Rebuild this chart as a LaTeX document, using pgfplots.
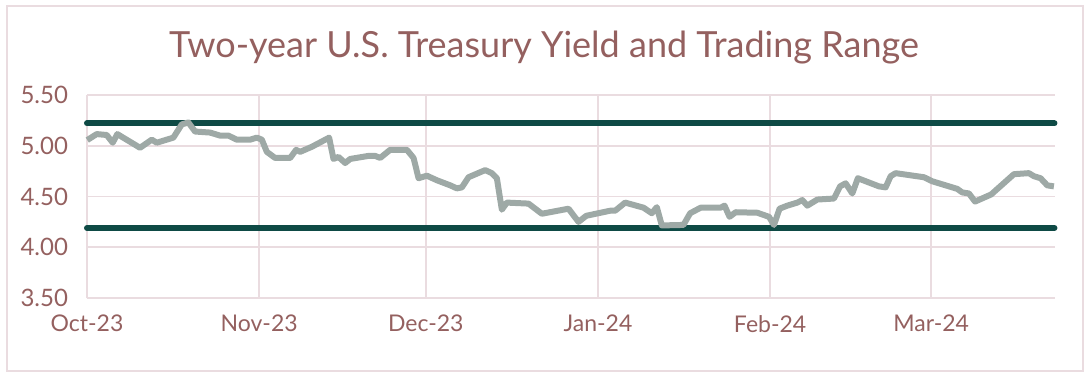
\documentclass[border=0pt]{standalone}
\usepackage{pgfplots}
\pgfplotsset{compat=1.18}
\usepackage{fontspec}
\setmainfont{Lato}
\definecolor{txt}{HTML}{94605F}
\definecolor{gridc}{HTML}{EADCE0}
\definecolor{yld}{HTML}{9EA9A6}
\definecolor{rng}{HTML}{0E4A45}
\begin{document}
\begin{tikzpicture}
\path[use as bounding box] (0,0) rectangle (545.5pt,188pt);
\draw[gridc, line width=0.8pt] (3.5pt,2.5pt) rectangle (541.5pt,185pt);
\node[text=txt, font=\fontsize{18pt}{21pt}\selectfont] at (272pt,164pt) {Two-year U.S. Treasury Yield and Trading Range};
\begin{axis}[
  at={(43.5pt,39pt)}, anchor=south west,
  scale only axis, width=484pt, height=101.5pt,
  xmin=0, xmax=174.3, ymin=3.5, ymax=5.5,
  xtick={0,31,61,92,123,152},
  xticklabels={Oct-23,Nov-23,Dec-23,Jan-24,Feb-24,Mar-24},
  ytick={3.5,4,4.5,5,5.5},
  /pgf/number format/assume math mode=true,
  tick label style={text=txt},
  yticklabel style={font=\fontsize{12pt}{14pt}\selectfont, xshift=-6pt, /pgf/number format/fixed, /pgf/number format/fixed zerofill, /pgf/number format/precision=2},
  xticklabel style={font=\fontsize{11.5pt}{14pt}\selectfont, yshift=-5pt},
  major tick length=0pt,
  grid=major, grid style={gridc, line width=0.8pt},
  axis line style={gridc, line width=0.8pt},
  axis x line*=bottom, axis y line*=left,
  clip=false,
]
\addplot[rng, line width=3pt, line cap=round] coordinates {(0,5.22) (174.2,5.22)};
\addplot[rng, line width=3pt, line cap=round] coordinates {(0,4.19) (174.2,4.19)};
\addplot[yld, line width=3pt, line join=round] coordinates {
(0.05,5.056) (1.75,5.115) (3.55,5.106) (4.63,5.03) (5.46,5.115) (9.55,4.98)
(11.66,5.06) (12.56,5.03) (15.55,5.08) (17.06,5.21) (18.25,5.23) (19.46,5.14)
(22.16,5.13) (23.96,5.10) (25.46,5.10) (26.97,5.06) (29.37,5.06) (30.58,5.08)
(31.48,5.06) (32.38,4.94) (33.87,4.88) (36.58,4.88) (37.66,4.96) (38.38,4.94)
(40.49,4.99) (43.6,5.08) (44.38,4.87) (45.28,4.89) (46.49,4.83) (47.39,4.87)
(50.68,4.90) (51.89,4.90) (52.79,4.88) (54.59,4.96) (57.6,4.96) (58.8,4.88)
(59.7,4.68) (61.2,4.705) (63.0,4.66) (65.4,4.61) (66.6,4.58) (67.5,4.59)
(68.7,4.69) (71.7,4.76) (72.9,4.73) (73.8,4.68) (74.7,4.37) (75.6,4.44)
(79.5,4.43) (81.9,4.33) (86.7,4.38) (88.5,4.25) (89.9,4.31) (94.2,4.36)
(95.1,4.36) (96.9,4.44) (100.2,4.39) (101.7,4.335) (102.6,4.395) (103.5,4.215)
(107.4,4.22) (108.6,4.335) (110.5,4.39) (114.1,4.39) (114.8,4.41) (115.7,4.30)
(116.8,4.345) (120.7,4.34) (122.8,4.30) (123.7,4.22) (124.7,4.38) (126.1,4.41)
(127.9,4.44) (128.8,4.465) (129.7,4.41) (131.5,4.47) (134.5,4.48) (135.6,4.60)
(136.6,4.63) (137.8,4.53) (138.8,4.68) (142.6,4.60) (143.8,4.59) (144.7,4.70)
(145.6,4.73) (150.7,4.69) (152.2,4.65) (156.7,4.575) (157.6,4.54) (158.8,4.53)
(159.9,4.45) (162.8,4.52) (166.9,4.72) (169.6,4.73) (170.5,4.70) (171.7,4.68)
(172.9,4.61) (174.1,4.60)
};
\end{axis}
\end{tikzpicture}
\end{document}
